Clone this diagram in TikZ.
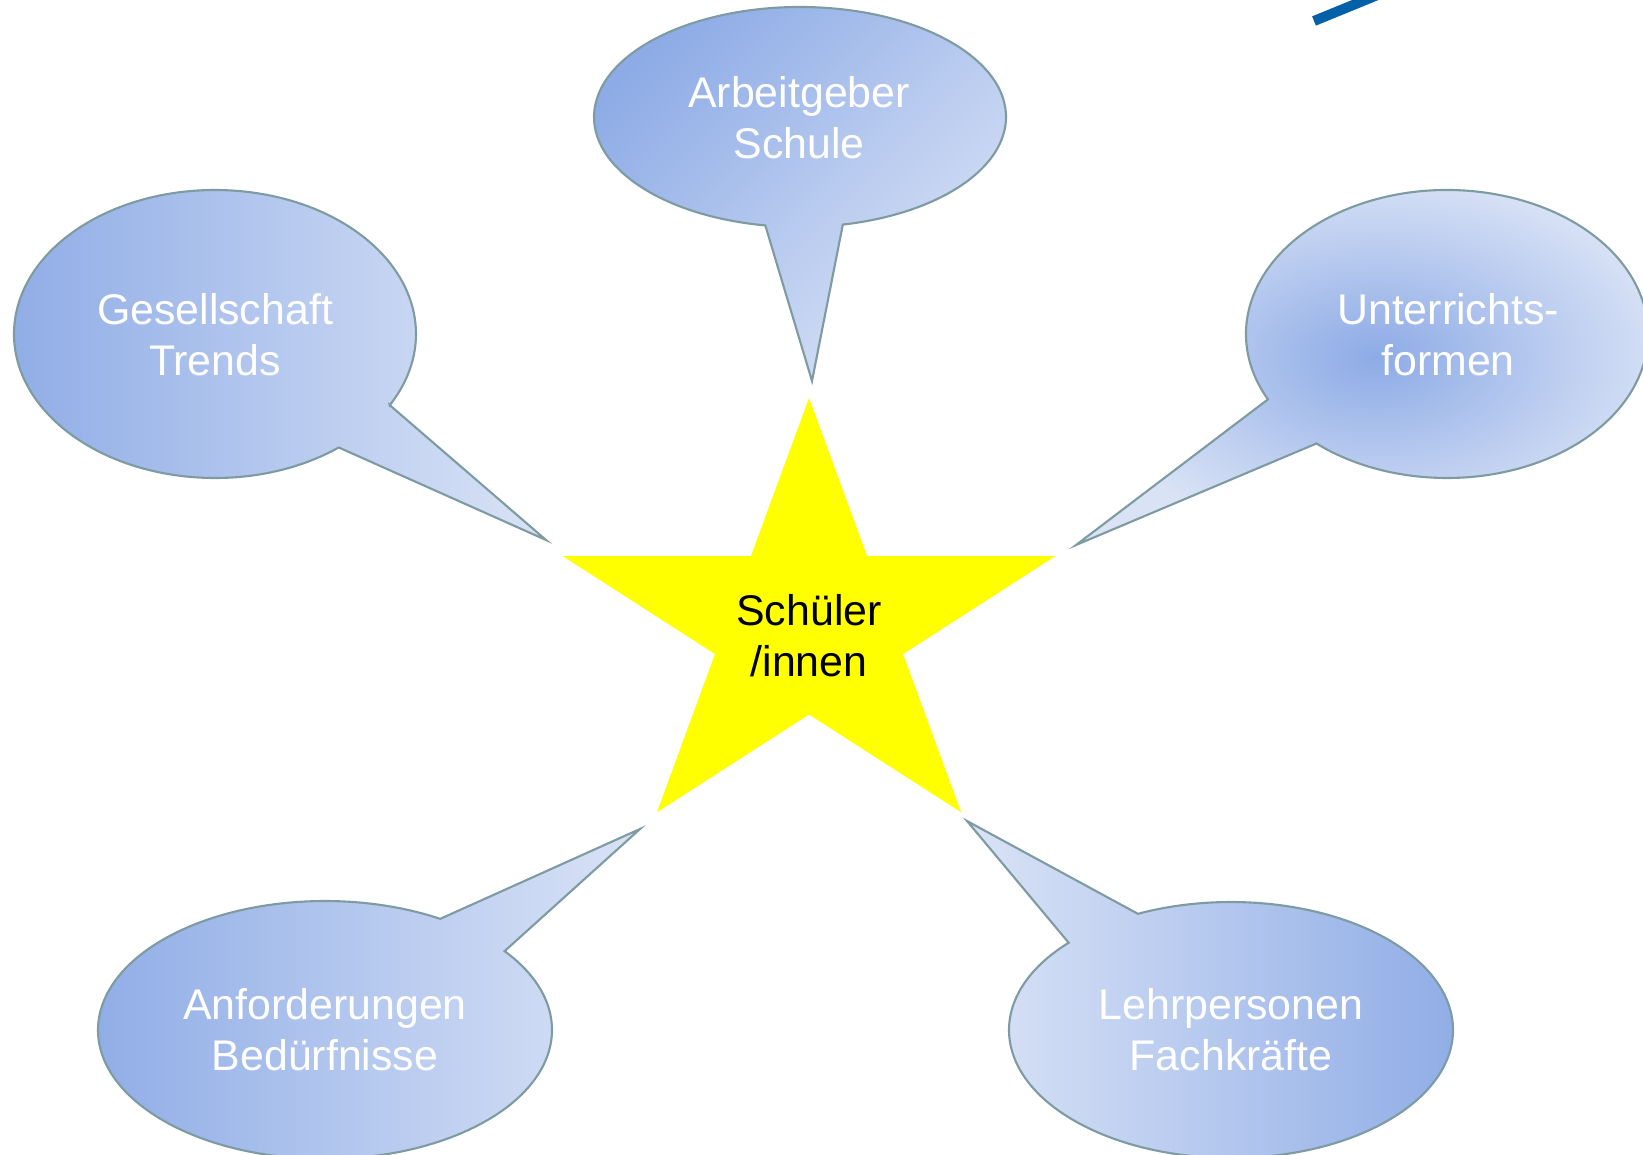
\documentclass[tikz,border=0pt]{standalone}
\usepackage{fontspec}
\setmainfont{Liberation Sans}
\usepackage{tikz}
\usetikzlibrary{calc}

\definecolor{bubbledark}{RGB}{141,171,230}
\definecolor{bubblelight}{RGB}{218,227,246}
\definecolor{bubbleline}{RGB}{125,155,160}
\definecolor{logoblue}{RGB}{0,96,168}
\definecolor{starfill}{RGB}{255,255,0}

\tikzset{
    bubble/.style={draw=bubbleline, line width=0.6pt, line join=miter},
    bubbletext/.style={text=white, align=center, font=\fontsize{12.2}{14.6}\selectfont},
}

\begin{document}
\begin{tikzpicture}
    \useasboundingbox (0,0) rectangle (16.43,11.54);
    % Centres
    \coordinate (gc) at (2.15,8.20);
    \coordinate (ac) at (8.00,10.37);
    \coordinate (uc) at (14.47,8.20);
    \coordinate (fc) at (3.25,1.24);
    \coordinate (lc) at (12.31,1.24);
    \coordinate (sc) at (8.09,5.27);

    % Bubbles
    \draw[bubble, left color=bubbledark, right color=bubblelight]
        ($(gc)+(-29.6:2.01 and 1.44)$) -- (5.46,6.14) -- ($(gc)+(-52:2.01 and 1.44)$)
        arc[start angle=-52, end angle=-389.6, x radius=2.01, y radius=1.44] -- cycle;
    \draw[bubble, left color=bubbledark, right color=bubblelight, shading angle=45]
        ($(ac)+(-78:2.06 and 1.10)$) -- (8.12,7.73) -- ($(ac)+(-99.7:2.06 and 1.10)$)
        arc[start angle=-99.7, end angle=-438, x radius=2.06, y radius=1.10] -- cycle;
    \draw[bubble, shading=radial, inner color=bubbledark, outer color=bubblelight]
        ($(uc)+(-130.5:2.01 and 1.44)$) -- (10.76,6.09) -- ($(uc)+(-153:2.01 and 1.44)$)
        arc[start angle=-153, end angle=-490.5, x radius=2.01, y radius=1.44] -- cycle;
    \draw[bubble, left color=bubbledark, right color=bubblelight]
        ($(fc)+(59.5:2.27 and 1.29)$) -- (6.40,3.25) -- ($(fc)+(37.7:2.27 and 1.29)$)
        arc[start angle=37.7, end angle=-300.5, x radius=2.27, y radius=1.29] -- cycle;
    \draw[bubble, left color=bubblelight, right color=bubbledark]
        ($(lc)+(114.8:2.22 and 1.28)$) -- (9.67,3.33) -- ($(lc)+(137:2.22 and 1.28)$)
        arc[start angle=137, end angle=474.8, x radius=2.22, y radius=1.28] -- cycle;

    % Star
    \fill[starfill, shift={(sc)}, xscale=1.13] (90:2.29)
        \foreach \a in {0,...,4} { -- (126+72*\a:0.875) -- (162+72*\a:2.29) } -- cycle;

    % Logo stroke
    \draw[logoblue, line width=1mm] (13.14,11.33) -- (13.80,11.60);

    % Nodes
    \node[bubbletext] (gesellschaft) at (2.15,8.19) {Gesellschaft\\Trends};
    \node[bubbletext] (arbeitgeber) at (7.99,10.36) {Arbeitgeber\\Schule};
    \node[bubbletext] (unterricht) at (14.48,8.19) {Unterrichts-\\formen};
    \node[bubbletext] (anforderungen) at (3.25,1.24) {Anforderungen\\Bedürfnisse};
    \node[bubbletext] (lehrpersonen) at (12.31,1.24) {Lehrpersonen\\Fachkräfte};
    \node[bubbletext, text=black] (schueler) at (8.09,5.18) {Schüler\\/innen};
\end{tikzpicture}
\end{document}
